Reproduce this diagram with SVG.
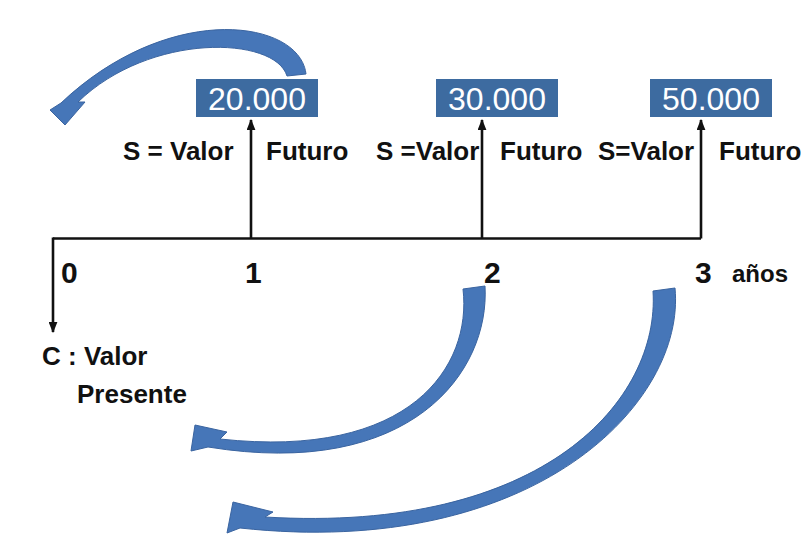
<svg xmlns="http://www.w3.org/2000/svg" width="809" height="544" viewBox="0 0 809 544">
<defs>
<style>
.box{fill:#3d6ba0}
.val{font-family:"Liberation Sans",Arial,sans-serif;font-size:32px;fill:#ffffff;text-anchor:middle}
.lbl{font-family:"Liberation Sans",Arial,sans-serif;font-size:26px;font-weight:bold;fill:#111111}
.num{font-family:"Liberation Sans",Arial,sans-serif;font-size:30px;font-weight:bold;fill:#111111}
.yr{font-family:"Liberation Sans",Arial,sans-serif;font-size:24px;font-weight:bold;fill:#111111}
.ln{stroke:#111111;stroke-width:2.6;fill:none}
.big{fill:#4676b8;stroke:#3a64a0;stroke-width:1;stroke-linejoin:round}
</style>
<marker id="ah" viewBox="0 0 10 8" refX="9" refY="4" markerWidth="11" markerHeight="9" markerUnits="userSpaceOnUse" orient="auto">
<path d="M0,0 L10,4 L0,8 z" fill="#111111"/>
</marker>
</defs>
<rect width="809" height="544" fill="#ffffff"/>

<g id="box-20000">
<rect class="box" x="196" y="79" width="122" height="38"/>
<text class="val" x="257" y="110">20.000</text>
</g>
<g id="box-30000">
<rect class="box" x="436" y="79" width="122" height="38"/>
<text class="val" x="497" y="110">30.000</text>
</g>
<g id="box-50000">
<rect class="box" x="650" y="79" width="122" height="38"/>
<text class="val" x="711" y="110">50.000</text>
</g>

<g id="labels-futuro">
<text class="lbl" x="123" y="160">S = Valor</text>
<text class="lbl" x="266" y="160">Futuro</text>
<text class="lbl" x="376" y="160">S =Valor</text>
<text class="lbl" x="500" y="160">Futuro</text>
<text class="lbl" x="598" y="160">S=Valor</text>
<text class="lbl" x="719" y="160">Futuro</text>
</g>

<g id="period-labels">
<text class="num" x="61" y="283">0</text>
<text class="num" x="245" y="283">1</text>
<text class="num" x="484" y="283">2</text>
<text class="num" x="695" y="283">3</text>
<text class="yr" x="732" y="282">años</text>
</g>

<g id="label-presente">
<text class="lbl" x="42" y="365">C : Valor</text>
<text class="lbl" x="77" y="403">Presente</text>
</g>

<g id="connectors">
<path class="ln" d="M53,238.5 H701"/>
<path class="ln" d="M53,237.5 V332" marker-end="url(#ah)"/>
<path class="ln" d="M251,238.5 V120" marker-end="url(#ah)"/>
<path class="ln" d="M482,238.5 V120" marker-end="url(#ah)"/>
<path class="ln" d="M701,238.5 V120" marker-end="url(#ah)"/>
<path class="big" d="M287,76 L306,74 C300,20 170,0 61,103 L50,110 L65,125 L85,102 L78,102 C150,32 275,36 287,76 Z"/>
<path class="big" d="M463,289 L485,286 C490,372 411,480 208,447 L191,451 L195,425 L227,432 L220,439 C411,460 472,366 463,289 Z"/>
<path class="big" d="M653,291 L675,288 C686,402 535,560 240,528 L227,533 L233,502 L273,512 L265,517 C545,534 660,399 653,291 Z"/>
</g>
</svg>
